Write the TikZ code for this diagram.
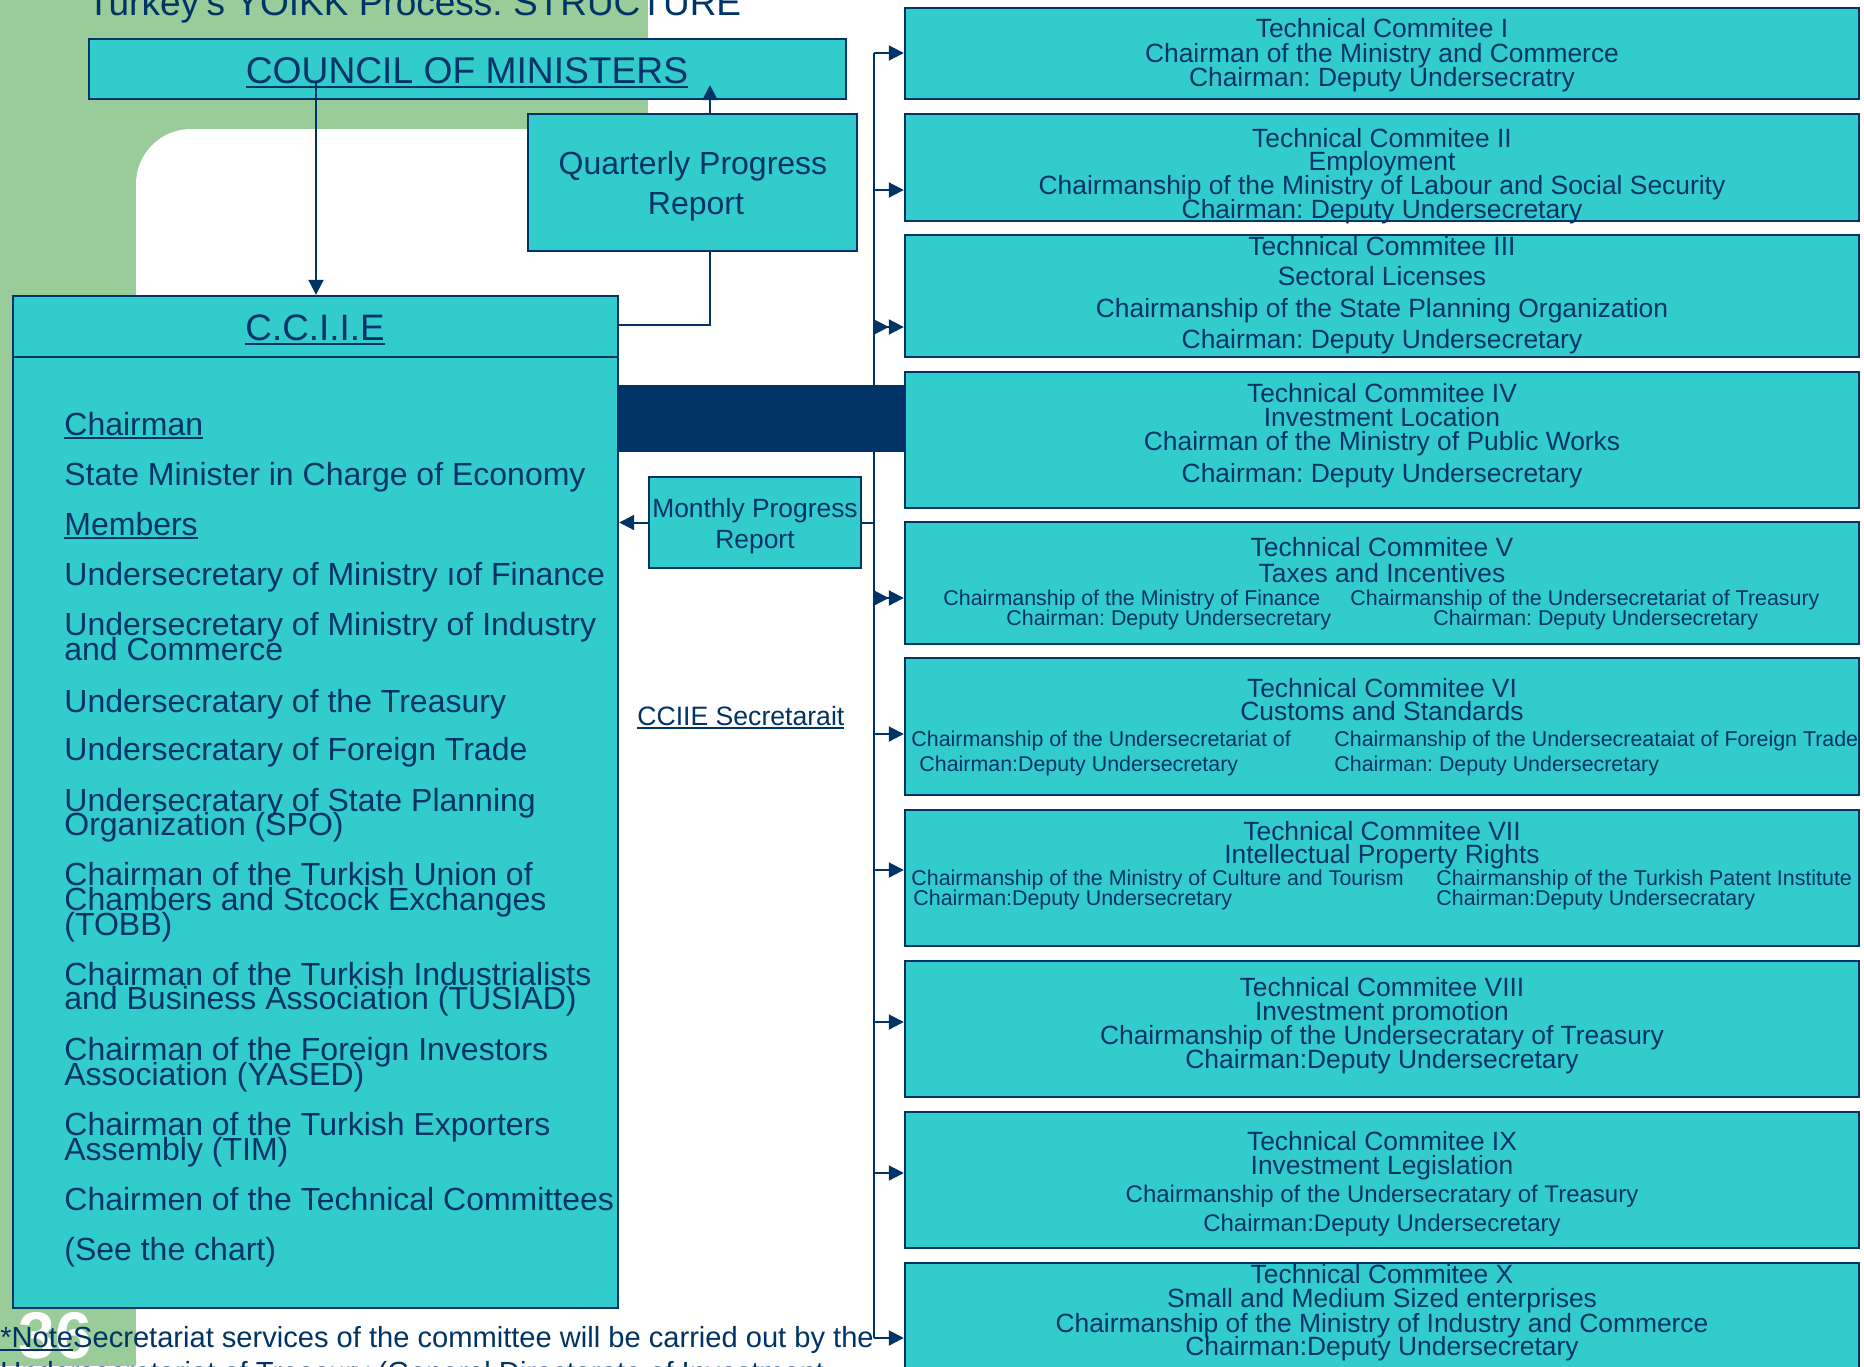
\documentclass[tikz,border=0pt]{standalone}
\usepackage{fontspec}
\setmainfont{Liberation Sans}
\usetikzlibrary{arrows.meta,fit}
\definecolor{navy}{HTML}{003366}
\definecolor{tealbox}{HTML}{33CCCC}
\definecolor{slidegreen}{HTML}{99CC99}
\newcommand\ulx[1]{\setbox0=\hbox{#1}\leavevmode\rlap{\rule[-0.14em]{\wd0}{0.065em}}\box0}
\newcommand\fsz[2]{\fontsize{#1}{#2}\selectfont}
\tikzset{
  box/.style={draw=navy, fill=tealbox, line width=1.2pt, inner sep=0pt},
  lbl/.style={text=navy, anchor=base, inner sep=0pt},
  lblw/.style={text=navy, anchor=base west, inner sep=0pt},
  conn/.style={draw=navy, line width=1pt},
  tip/.style={-{Triangle[length=7.5pt,width=7.5pt]}},
  dtip/.style={-{Triangle[length=7.5pt,width=7.5pt,sep=0pt]Triangle[length=7.5pt,width=7.5pt]}},
  tcf/.style={font=\fsz{13.2pt}{13pt}},
  tcs/.style={font=\fsz{10.7pt}{11pt}},
  body/.style={font=\fsz{16pt}{12.5pt}},
}
\frenchspacing
\begin{document}
\begin{tikzpicture}[x=0.5pt,y=-0.5pt]
\useasboundingbox (0,0) rectangle (1864,1366);
\clip (0,0) rectangle (1864,1366);
% slide background
\fill[slidegreen] (0,0) rectangle (648,1366);
\fill[white, rounded corners=27.5pt] (136,129) rectangle (900,1500);
\node[lblw, font=\fsz{18.5pt}{20pt}] (title) at (87,15) {Turkey's YOIKK Process: STRUCTURE};

% boxes
\node[box, fit={(89,39) (846,99)}] (council) {};
\node[box, fit={(528,114) (857,251)}] (qpr) {};
\node[box, fit={(13,296) (618,1308)}] (cciie) {};
\node[box, fit={(649,477) (861,568)}] (mpr) {};
\node[fill=navy, inner sep=0pt, fit={(618,385) (905,452)}] (band) {};
\draw[navy, line width=1.2pt] (cciie.west |- 0,357) -- (cciie.east |- 0,357);

\node[box, fit={(905,8) (1859,99)}] (tc1) {};
\node[box, fit={(905,114) (1859,221)}] (tc2) {};
\node[box, fit={(905,235) (1859,357)}] (tc3) {};
\node[box, fit={(905,372) (1859,508)}] (tc4) {};
\node[box, fit={(905,522) (1859,644)}] (tc5) {};
\node[box, fit={(905,658) (1859,795)}] (tc6) {};
\node[box, fit={(905,810) (1859,946)}] (tc7) {};
\node[box, fit={(905,961) (1859,1097)}] (tc8) {};
\node[box, fit={(905,1112) (1859,1248)}] (tc9) {};
\node[box, fit={(905,1263) (1859,1420)}] (tc10) {};

% connectors
\coordinate (c1) at (316,83);
\draw[conn,tip] (c1) -- (c1 |- cciie.north);
\coordinate (q1) at (710,251);
\coordinate (q2) at (710,85);
\coordinate (q3) at (618,325);
\draw[conn,tip] (q1 |- qpr.north) -- (q2);
\draw[conn] (q1) |- (q3);
\draw[conn,tip] (mpr.west) -- (mpr.west -| cciie.east);
\coordinate (bt) at (874,53);
\coordinate (bb) at (874,1338);
\draw[conn] (bt) -- (bb);
\draw[conn] (mpr.east) -- (mpr.east -| bt);
\foreach \y/\n/\s in {53/1/tip,190/2/tip,327/3/dtip,598/5/dtip,734/6/tip,870/7/tip,1022/8/tip,1173/9/tip,1338/10/tip}
  {\coordinate (b\n) at (874,\y); \draw[conn,\s] (b\n) -- (b\n -| tc\n.west);}

% texts
\node[lbl, font=\fsz{18.6pt}{20pt}] (councilt) at (467,83) {\ulx{COUNCIL OF MINISTERS}};
\node[lbl, font=\fsz{16pt}{20pt}] (qprt1) at (693,174) {Quarterly Progress};
\node[lbl, font=\fsz{16pt}{20pt}] (qprt2) at (696,214) {Report};
\node[lbl, font=\fsz{18.4pt}{20pt}] (cciiet) at (315,340) {\ulx{C.C.I.I.E}};
\foreach \y/\t [count=\i] in {435/{\ulx{Chairman}},485/{State Minister in Charge of Economy},535/{\ulx{Members}},
  585/{Undersecretary of Ministry ıof Finance},635/{Undersecretary of Ministry of Industry},660/{and Commerce},
  712/{Undersecratary of the Treasury},760/{Undersecratary of Foreign Trade},811/{Undersecratary of State Planning},
  835/{Organization (SPO)},885/{Chairman of the Turkish Union of},910/{Chambers and Stcock Exchanges},935/{(TOBB)},
  985/{Chairman of the Turkish Industrialists},1009/{and Business Association (TUSIAD)},
  1060/{Chairman of the Foreign Investors},1085/{Association (YASED)},1135/{Chairman of the Turkish Exporters},
  1160/{Assembly (TIM)},1210/{Chairmen of the Technical Committees},1260/{(See the chart)}}
  {\node[lblw, body] (m\i) at (64,\y) {\t};}
\node[lbl, font=\fsz{13.2pt}{14pt}] (mprt1) at (755,517) {Monthly Progress};
\node[lbl, font=\fsz{13.2pt}{14pt}] (mprt2) at (755,548) {Report};
\node[lblw, font=\fsz{13.3pt}{14pt}] (sec) at (637,725) {\ulx{CCIIE Secretarait}};

% technical committees (centered lines)
\foreach \y/\t [count=\i] in {37/{Technical Commitee I},62/{Chairman of the Ministry and Commerce},86/{Chairman: Deputy Undersecratry},
  147/{Technical Commitee II},170/{Employment},194/{Chairmanship of the Ministry of Labour and Social Security},218/{Chairman: Deputy Undersecretary},
  255/{Technical Commitee III},285/{Sectoral Licenses},317/{Chairmanship of the State Planning Organization},348/{Chairman: Deputy Undersecretary},
  402/{Technical Commitee IV},426/{Investment Location},450/{Chairman of the Ministry of Public Works},482/{Chairman: Deputy Undersecretary},
  556/{Technical Commitee V},582/{Taxes and Incentives},
  697/{Technical Commitee VI},720/{Customs and Standards},
  840/{Technical Commitee VII},863/{Intellectual Property Rights},
  996/{Technical Commitee VIII},1020/{Investment promotion},1044/{Chairmanship of the Undersecratary of Treasury},1068/{Chairman:Deputy Undersecretary},
  1150/{Technical Commitee IX},1174/{Investment Legislation},
  1283/{Technical Commitee X},1307/{Small and Medium Sized enterprises},1332/{Chairmanship of the Ministry of Industry and Commerce},1355/{Chairman:Deputy Undersecretary}}
  {\node[lbl, tcf] (t\i) at (1382,\y) {\t};}
\node[lbl, font=\fsz{12pt}{13pt}] (t9c) at (1382,1202) {Chairmanship of the Undersecratary of Treasury};
\node[lbl, font=\fsz{12pt}{13pt}] (t9d) at (1382,1231) {Chairman:Deputy Undersecretary};
% two-column lines
\foreach \x/\y/\t [count=\i] in {943/605/{Chairmanship of the Ministry of Finance},1006/625/{Chairman: Deputy Undersecretary},
  1350/605/{Chairmanship of the Undersecretariat of Treasury},1433/625/{Chairman: Deputy Undersecretary},
  911/746/{Chairmanship of the Undersecretariat of},919/771/{Chairman:Deputy Undersecretary},
  1334/746/{Chairmanship of the Undersecreataiat of Foreign Trade},1334/771/{Chairman: Deputy Undersecretary},
  911/885/{Chairmanship of the Ministry of Culture and Tourism},913/905/{Chairman:Deputy Undersecretary},
  1436/885/{Chairmanship of the Turkish Patent Institute},1436/905/{Chairman:Deputy Undersecratary}}
  {\node[lblw, tcs] (s\i) at (\x,\y) {\t};}

% page number and note
\node[anchor=base west, inner sep=0pt, text=white, font=\fsz{33pt}{36pt}\bfseries] (pg) at (18,1358) {36};
\node[lblw, font=\fsz{14.55pt}{16pt}] (note1) at (0,1347) {\ulx{*Note}Secretariat services of the committee will be carried out by the};
\node[lblw, font=\fsz{14.55pt}{16pt}] (note2) at (0,1382) {Undersecretariat of Treasury (General Directorate of Investment};
\end{tikzpicture}
\end{document}
